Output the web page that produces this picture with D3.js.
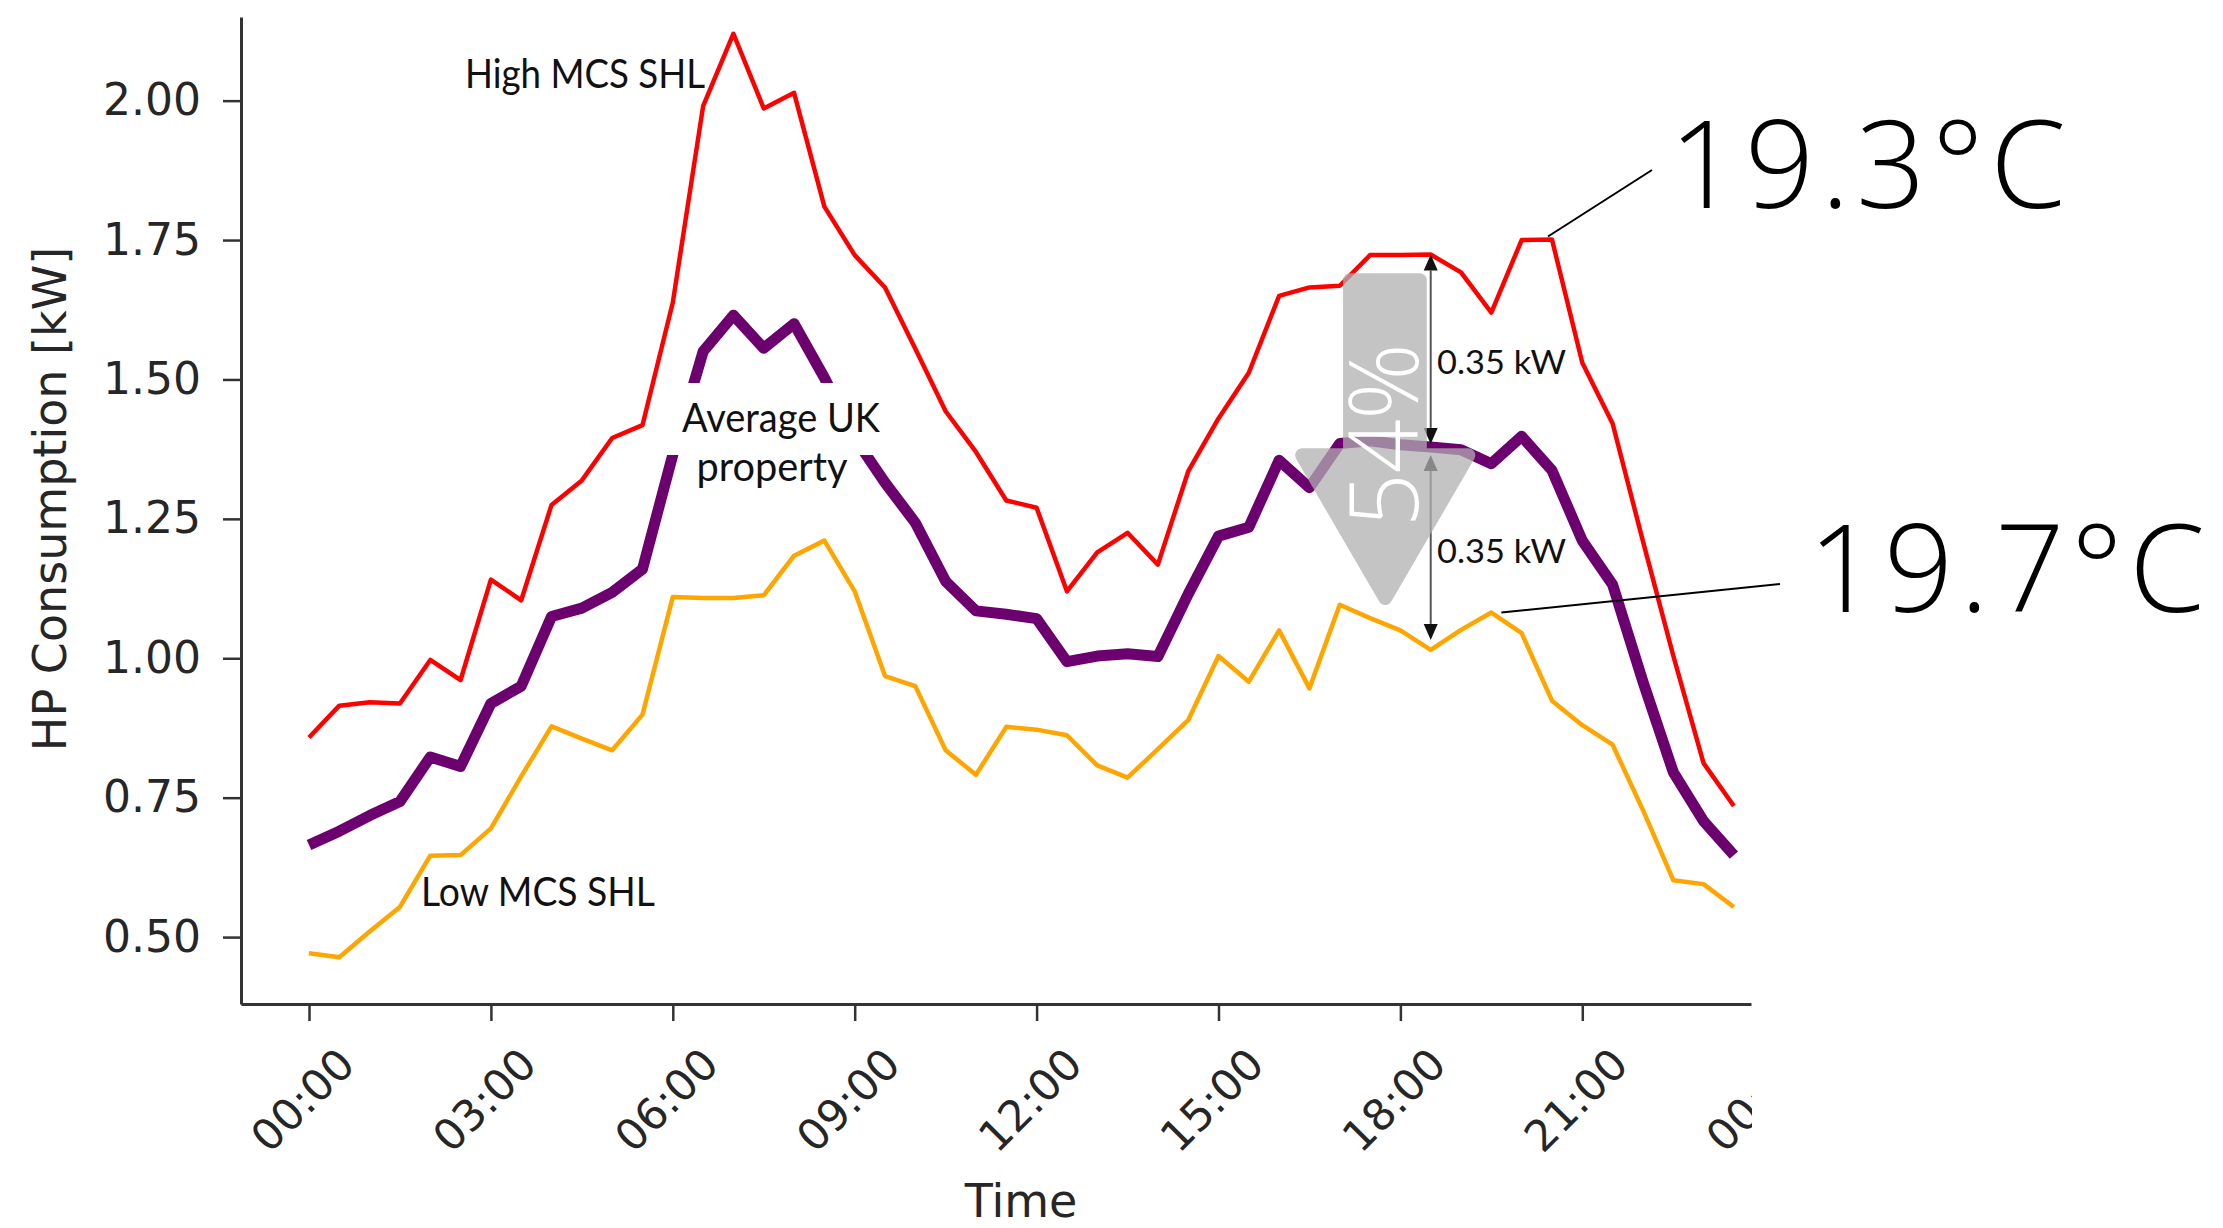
<!DOCTYPE html>
<html>
<head>
<meta charset="utf-8">
<script src="https://cdn.jsdelivr.net/npm/d3@7"></script>
<style>
  html, body { margin: 0; padding: 0; background: #ffffff; }
  svg { display: block; }
</style>
</head>
<body>
<script>
// ---------------- data ----------------
const timeLabels = ["00:00","00:30","01:00","01:30","02:00","02:30","03:00","03:30",
  "04:00","04:30","05:00","05:30","06:00","06:30","07:00","07:30",
  "08:00","08:30","09:00","09:30","10:00","10:30","11:00","11:30",
  "12:00","12:30","13:00","13:30","14:00","14:30","15:00","15:30",
  "16:00","16:30","17:00","17:30","18:00","18:30","19:00","19:30",
  "20:00","20:30","21:00","21:30","22:00","22:30","23:00","23:30"];

const highSHL = [0.858,0.915,0.921,0.919,0.997,0.961,1.141,1.104,
  1.275,1.319,1.395,1.418,1.638,1.990,2.120,1.986,
  2.014,1.810,1.723,1.665,1.555,1.443,1.370,1.283,
  1.270,1.120,1.190,1.225,1.168,1.335,1.430,1.512,
  1.650,1.665,1.668,1.723,1.723,1.724,1.692,1.620,
  1.750,1.751,1.530,1.421,1.210,1.005,0.812,0.735];

const avgUK = [0.665,0.690,0.718,0.743,0.823,0.806,0.919,0.950,
  1.075,1.090,1.118,1.160,1.365,1.550,1.615,1.556,
  1.600,1.503,1.395,1.315,1.243,1.138,1.085,1.079,
  1.071,0.994,1.004,1.008,1.003,1.115,1.219,1.235,
  1.355,1.306,1.385,1.390,1.383,1.379,1.374,1.349,
  1.398,1.337,1.211,1.132,0.958,0.796,0.708,0.647];

const lowSHL = [0.471,0.464,0.510,0.554,0.646,0.647,0.695,0.788,
  0.878,0.856,0.835,0.899,1.110,1.108,1.108,1.113,
  1.184,1.211,1.120,0.968,0.950,0.835,0.791,0.877,
  0.872,0.862,0.808,0.786,0.837,0.889,1.004,0.958,
  1.050,0.946,1.096,1.072,1.050,1.015,1.051,1.082,
  1.045,0.924,0.880,0.845,0.728,0.602,0.595,0.554];

const yTicks = [0.50, 0.75, 1.00, 1.25, 1.50, 1.75, 2.00];
const xTickHours = [0, 3, 6, 9, 12, 15, 18, 21, 24];
const xTickLabels = ["00:00","03:00","06:00","09:00","12:00","15:00","18:00","21:00","00:00"];

// annotation anchors (data space)
const gapIndex = 37;            // 18:30 – where the 0.35 kW arrows sit
const hiLabelIndex = 41;        // 20:30 – 19.3°C leader start
const loLabelIndex = 39;        // 19:30 – 19.7°C leader start

// ---------------- setup ----------------
const W = 2223, H = 1228;
const hours = timeLabels.map(t => { const [h, m] = t.split(":").map(Number); return h + m / 60; });

const svg = d3.select("body").append("svg").attr("width", W).attr("height", H);
svg.append("rect").attr("width", W).attr("height", H).attr("fill", "#ffffff");

const x = d3.scaleLinear().domain([-1.1216, 23.7826]).range([241, 1751]);
const y = d3.scaleLinear().domain([0.38, 2.15]).range([1004, 17]);

const defs = svg.append("defs");
defs.append("clipPath").attr("id", "chartClip")
  .append("rect").attr("x", 0).attr("y", 0).attr("width", 1752).attr("height", H);

const chart = svg.append("g").attr("clip-path", "url(#chartClip)");

const axisFont = "'DejaVu Sans', sans-serif";
const annFont = "Lato, 'Open Sans', sans-serif";
const bigFont = "'Open Sans', 'Noto Sans', sans-serif";

// ---------------- axes ----------------
const yAxis = chart.append("g").attr("transform", "translate(241,0)")
  .call(d3.axisLeft(y).tickValues(yTicks).tickFormat(d3.format(".2f"))
    .tickSize(18).tickSizeOuter(0).tickPadding(22));
yAxis.select(".domain").attr("stroke", "#333").attr("stroke-width", 3);
yAxis.selectAll(".tick line").attr("stroke", "#333").attr("stroke-width", 2.5);
yAxis.selectAll(".tick text").attr("font-family", axisFont).attr("font-size", 44)
  .attr("fill", "#262626");

const xAxis = chart.append("g").attr("transform", "translate(0,1004)")
  .call(d3.axisBottom(x).tickValues(xTickHours).tickFormat((d, i) => xTickLabels[i])
    .tickSize(17).tickSizeOuter(0));
xAxis.select(".domain").attr("stroke", "#333").attr("stroke-width", 3);
xAxis.selectAll(".tick line").attr("stroke", "#333").attr("stroke-width", 2.5);
xAxis.selectAll(".tick text")
  .attr("font-family", axisFont).attr("font-size", 43).attr("fill", "#262626")
  .attr("y", null).attr("dy", "0.35em").attr("text-anchor", "middle")
  .attr("transform", "translate(-7,96) rotate(-45)");

// axis titles
chart.append("text").attr("x", 1021).attr("y", 1217).attr("text-anchor", "middle")
  .attr("font-family", axisFont).attr("font-size", 46).attr("fill", "#262626").text("Time");
chart.append("text").attr("transform", "translate(66,499) rotate(-90)")
  .attr("text-anchor", "middle").attr("font-family", axisFont).attr("font-size", 46)
  .attr("fill", "#262626").text("HP Consumption [kW]");

// ---------------- lines ----------------
const line = d3.line().x((d, i) => x(hours[i])).y(d => y(d));
const series = [
  { values: highSHL, color: "#ff0000", width: 4.5 },
  { values: lowSHL, color: "#ffa500", width: 4.5 },
  { values: avgUK, color: "#6c006f", width: 11 }
];
chart.selectAll("path.series").data(series).join("path").attr("class", "series")
  .attr("d", d => line(d.values)).attr("fill", "none")
  .attr("stroke", d => d.color).attr("stroke-width", d => d.width)
  .attr("stroke-linejoin", "round").attr("stroke-linecap", "butt");

// ---------------- in-plot labels ----------------
chart.append("rect").attr("x", 660).attr("y", 383).attr("width", 225).attr("height", 72)
  .attr("fill", "#ffffff");

function annText(txt, cx, base, len, size, anchor) {
  return chart.append("text").attr("x", cx).attr("y", base)
    .attr("text-anchor", anchor || "start")
    .attr("font-family", annFont).attr("font-size", size).attr("fill", "#111")
    .attr("textLength", len).attr("lengthAdjust", "spacingAndGlyphs").text(txt);
}
annText("High MCS SHL", 465, 88, 240, 40);
annText("Average UK", 781, 432, 198, 40, "middle");
annText("property", 772, 481, 151, 40, "middle");
annText("Low MCS SHL", 421, 906, 234, 40);

// ---------------- 0.35 kW arrows ----------------
const ax = x(hours[gapIndex]);
const yTop = y(highSHL[gapIndex]), yMid = y(avgUK[gapIndex]), yBot = y(lowSHL[gapIndex]);
function dblArrow(y1, y2) {
  const g = chart.append("g");
  const hw = 7, hl = 16;
  g.append("line").attr("x1", ax).attr("x2", ax).attr("y1", y1 + hl).attr("y2", y2 - hl)
    .attr("stroke", "#555").attr("stroke-width", 2);
  g.append("path").attr("d", `M${ax},${y1} L${ax - hw},${y1 + hl} L${ax + hw},${y1 + hl} Z`).attr("fill", "#111");
  g.append("path").attr("d", `M${ax},${y2} L${ax - hw},${y2 - hl} L${ax + hw},${y2 - hl} Z`).attr("fill", "#111");
}
dblArrow(yTop, yMid - 3);
dblArrow(yMid + 8, yBot - 10);
annText("0.35 kW", 1437, 374, 129, 33);
annText("0.35 kW", 1437, 563, 129, 33);

// ---------------- big grey arrow ----------------
const arrowPts = [
  [17.17, 1.678], [18.32, 1.678], [18.32, 1.364], [19.12, 1.364],
  [17.75, 1.108], [16.38, 1.364], [17.17, 1.364]
];
const arrowG = chart.append("g").attr("opacity", 0.74);
arrowG.append("path")
  .attr("d", "M" + arrowPts.map(p => `${x(p[0])},${y(p[1])}`).join("L") + "Z")
  .attr("fill", "#b0b0b0").attr("stroke", "#b0b0b0").attr("stroke-width", 14)
  .attr("stroke-linejoin", "round");
chart.append("text")
  .attr("transform", `translate(${x(17.75) + 33},${y(1.40)}) rotate(-90)`)
  .attr("text-anchor", "middle").attr("font-family", bigFont).attr("font-weight", 300)
  .attr("font-size", 95).attr("fill", "#ffffff")
  .attr("textLength", 184).attr("lengthAdjust", "spacing").text("54%");

// ---------------- temperature call-outs ----------------
const hx = x(hours[hiLabelIndex]), hy = y(highSHL[hiLabelIndex]);
svg.append("line").attr("x1", hx - 4).attr("y1", hy - 3).attr("x2", 1652).attr("y2", 170)
  .attr("stroke", "#000").attr("stroke-width", 2);
svg.append("text").attr("x", 1669).attr("y", 208).attr("font-family", bigFont)
  .attr("font-weight", 300).attr("font-size", 122).attr("fill", "#000")
  .attr("textLength", 397).attr("lengthAdjust", "spacing").text("19.3°C");

const lx = x(hours[loLabelIndex]), ly = y(lowSHL[loLabelIndex]);
svg.append("line").attr("x1", lx + 10).attr("y1", ly).attr("x2", 1780).attr("y2", 584)
  .attr("stroke", "#000").attr("stroke-width", 2);
svg.append("text").attr("x", 1808).attr("y", 612).attr("font-family", bigFont)
  .attr("font-weight", 300).attr("font-size", 122).attr("fill", "#000")
  .attr("textLength", 397).attr("lengthAdjust", "spacing").text("19.7°C");
</script>
</body>
</html>
